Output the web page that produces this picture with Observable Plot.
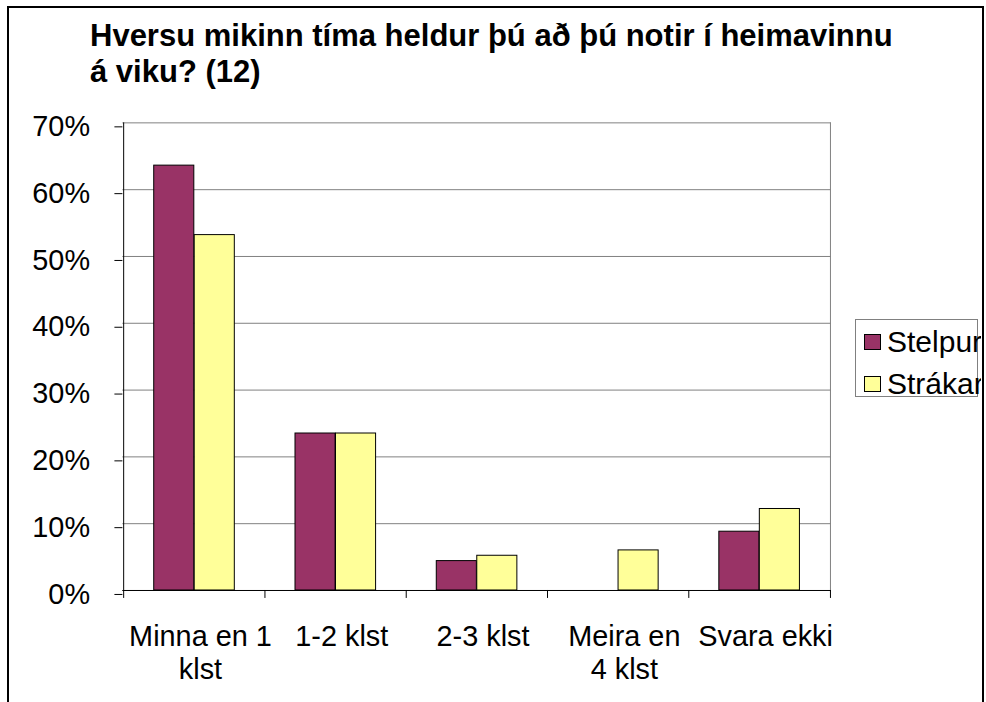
<!DOCTYPE html>
<html>
<head>
<meta charset="utf-8">
<script src="https://cdn.jsdelivr.net/npm/d3@7"></script>
<script src="https://cdn.jsdelivr.net/npm/@observablehq/plot@0.6"></script>
<style>
  body { margin: 0; background: #fff; font-family: "Liberation Sans", Arial, sans-serif; }
  #wrap { position: relative; width: 986px; height: 702px; overflow: hidden; background: #fff; }
  #clip { position: absolute; left: 0; top: 0; width: 981px; height: 702px; overflow: hidden; }
  #chart { position: absolute; left: 0; top: 0; }
  #frame { position: absolute; left: 7px; top: 6px; width: 973px; height: 760px; border: 2px solid #000; border-bottom: none; pointer-events: none; }
  #title { position: absolute; left: 90px; top: 18px; font-weight: bold; font-size: 31px; line-height: 36px; color: #000; white-space: nowrap; }
  #legend { position: absolute; left: 855px; top: 319px; width: 121px; height: 76px; border: 1px solid #808080; background: #fff; }
  .lg-row { position: absolute; left: 0; height: 36px; white-space: nowrap; font-size: 30px; line-height: 36px; }
  .lg-sw { position: absolute; left: 8px; width: 15px; height: 14px; border: 1px solid #000; }
  .lg-tx { position: absolute; left: 31px; top: 0; }
</style>
</head>
<body>
<div id="wrap">
  <div id="clip">
    <div id="chart"></div>
    <div id="legend"></div>
  </div>
  <div id="title">Hversu mikinn tíma heldur þú að þú notir í heimavinnu<br>á viku? (12)</div>
  <div id="frame"></div>
</div>
<script>
// ---- data ----
const categories = ["Minna en 1\nklst", "1-2 klst", "2-3 klst", "Meira en\n4 klst", "Svara ekki"];
const series = ["Stelpur", "Strákar"];
const stelpur = [0.636, 0.235, 0.044, 0.0, 0.088];
const strakar = [0.532, 0.235, 0.052, 0.060, 0.122];
const colors = ["#993366", "#FFFF99"];
const yTicks = [0, 0.1, 0.2, 0.3, 0.4, 0.5, 0.6, 0.7];

// ---- table ----
const rows = [];
categories.forEach((c, i) => {
  rows.push({cat: c, series: series[0], value: stelpur[i]});
  rows.push({cat: c, series: series[1], value: strakar[i]});
});

const W = 986, H = 702;
const mL = 123, mR = 151, mT = 123, mB = 109;
const bw = (W - mL - mR) / categories.length;
const barW = 40.7;
const gap = (bw - 2 * barW) / 2;
const plotH = H - mT - mB;

const chart = Plot.plot({
  width: W, height: H,
  marginLeft: mL, marginRight: mR, marginTop: mT, marginBottom: mB,
  style: { fontFamily: '"Liberation Sans", Arial, sans-serif', fontSize: "29px", color: "#000", background: "transparent", overflow: "visible" },
  x: { type: "band", domain: categories, padding: 0, label: null },
  y: { domain: [0, 0.7], label: null },
  color: { domain: series, range: colors },
  marks: [
    Plot.gridY({ ticks: yTicks, stroke: "#808080", strokeOpacity: 1, strokeWidth: 1 }),
    Plot.ruleX([categories[categories.length - 1]], { x: d => d, dx: bw / 2, stroke: "#808080", strokeWidth: 1 }),
    Plot.barY(rows.filter(d => d.series === series[0]), {
      x: "cat", y: "value", fill: "series", stroke: "#000", strokeWidth: 1,
      insetLeft: gap, insetRight: bw - gap - barW
    }),
    Plot.barY(rows.filter(d => d.series === series[1]), {
      x: "cat", y: "value", fill: "series", stroke: "#000", strokeWidth: 1,
      insetLeft: gap + barW, insetRight: gap
    }),
    Plot.ruleY([0], { stroke: "#000", strokeWidth: 1 }),
    Plot.ruleX([categories[0]], { x: d => d, dx: -bw / 2, stroke: "#000", strokeWidth: 1 }),
    Plot.ruleX(categories, { x: d => d, dx: -bw / 2, insetTop: plotH, insetBottom: -8, stroke: "#000", strokeWidth: 1 }),
    Plot.ruleX([categories[categories.length - 1]], { x: d => d, dx: bw / 2, insetTop: plotH, insetBottom: -8, stroke: "#000", strokeWidth: 1 }),
    Plot.axisY({ ticks: yTicks, tickFormat: d => `${Math.round(d * 100)}%`, tickSize: 8, tickPadding: 25, fontSize: 29, dy: 4, stroke: "#000", strokeOpacity: 1, fill: "#000" }),
    Plot.axisX({ tickSize: 0, tickPadding: 32, fontSize: 29, lineHeight: 1.14, lineAnchor: "top", fill: "#000", dx: 6 })
  ]
});
document.getElementById("chart").appendChild(chart);

// ---- legend ----
const legend = document.getElementById("legend");
series.forEach((s, i) => {
  const row = document.createElement("div");
  row.className = "lg-row";
  row.style.top = (4 + i * 42) + "px";
  const sw = document.createElement("div");
  sw.className = "lg-sw";
  sw.style.top = "10px";
  sw.style.background = colors[i];
  const tx = document.createElement("div");
  tx.className = "lg-tx";
  tx.textContent = s;
  row.appendChild(sw);
  row.appendChild(tx);
  legend.appendChild(row);
});
</script>
</body>
</html>
